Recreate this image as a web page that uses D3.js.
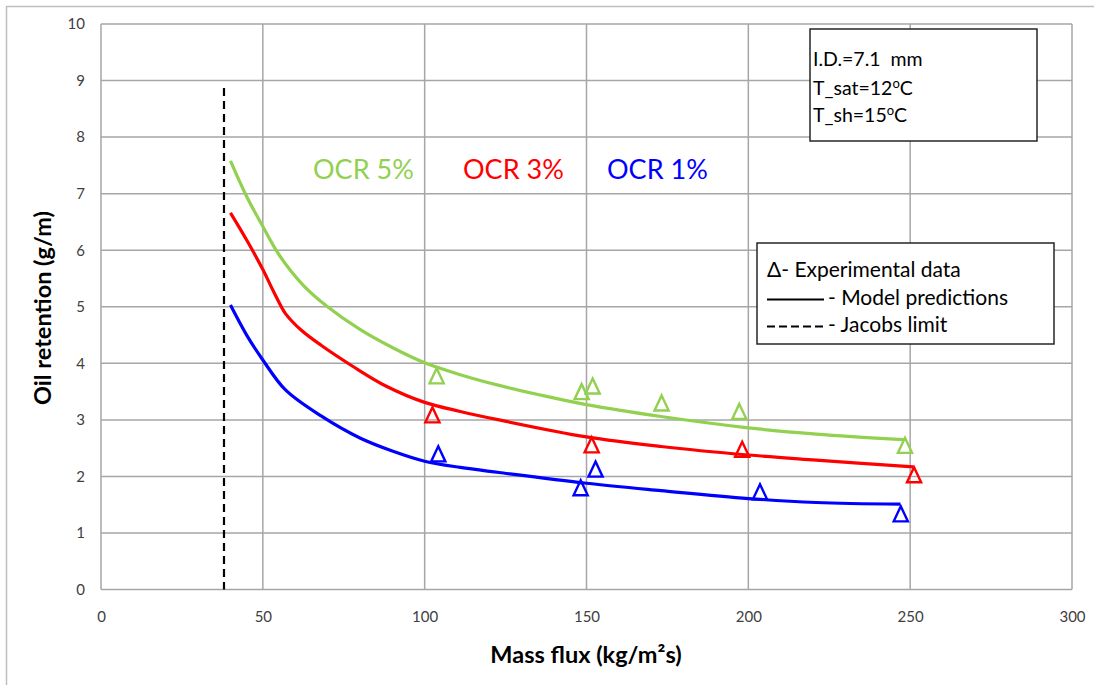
<!DOCTYPE html>
<html>
<head>
<meta charset="utf-8">
<script src="https://cdn.jsdelivr.net/npm/d3@7"></script>
<style>
  html, body { margin: 0; padding: 0; background: #fff; }
  svg { display: block; font-family: Lato, "Open Sans", sans-serif; }
</style>
</head>
<body>
<svg id="chart" width="1094" height="685"></svg>
<script>
// Axis ticks
const xTicks = [0, 50, 100, 150, 200, 250, 300];
const yTicks = [0, 1, 2, 3, 4, 5, 6, 7, 8, 9, 10];

// Model prediction curves (mass flux, oil retention)
const model5X = [40, 45, 50, 55, 62.5, 70, 80, 90, 100, 111, 123, 135, 150, 173, 200, 221, 248];
const model5Y = [7.58, 6.95, 6.42, 5.92, 5.38, 5.0, 4.60, 4.28, 4.01, 3.80, 3.61, 3.45, 3.27, 3.06, 2.86, 2.75, 2.65];
const model3X = [40, 45, 50, 53.5, 57, 62, 68, 78, 88, 100, 111, 123, 150, 173, 200, 221, 251];
const model3Y = [6.66, 6.18, 5.66, 5.25, 4.88, 4.58, 4.32, 3.94, 3.6, 3.31, 3.15, 3.0, 2.70, 2.53, 2.38, 2.29, 2.17];
const model1X = [40, 45, 50, 57, 68, 80, 90, 100, 111, 123, 150, 173, 200, 221, 247];
const model1Y = [5.03, 4.5, 4.06, 3.53, 3.07, 2.68, 2.45, 2.27, 2.16, 2.07, 1.88, 1.75, 1.61, 1.54, 1.51];

// Experimental data
const exp5X = [103.7, 148.5, 151.9, 173.2, 197.2, 248.4];
const exp5Y = [3.78, 3.50, 3.60, 3.30, 3.15, 2.55];
const exp3X = [102.4, 151.6, 198.1, 251.2];
const exp3Y = [3.09, 2.56, 2.48, 2.03];
const exp1X = [104.2, 148.2, 152.8, 203.6, 247.1];
const exp1Y = [2.40, 1.80, 2.13, 1.73, 1.34];

// Jacobs limit
const jacobsX = 38;
const jacobsTop = 8.87;

const seriesNames = ["OCR 5%", "OCR 3%", "OCR 1%"];
const seriesColors = ["#92d050", "#ff0000", "#0000ff"];

const svg = d3.select("#chart");
const plot = { left: 101, right: 1072, top: 24, bottom: 589.6 };

const x = d3.scaleLinear().domain([0, 300]).range([plot.left, plot.right]);
const y = d3.scaleLinear().domain([0, 10]).range([plot.bottom, plot.top]);

// Outer frame
svg.append("rect")
  .attr("x", 6.5).attr("y", 6.5).attr("width", 1200).attr("height", 800)
  .attr("fill", "none").attr("stroke", "#bfbfbf").attr("stroke-width", 1.5);

// Grid
const grid = svg.append("g");
grid.selectAll(".gx").data(xTicks).join("line")
  .attr("x1", d => x(d)).attr("x2", d => x(d))
  .attr("y1", plot.top).attr("y2", plot.bottom)
  .attr("stroke", "#a6a6a6").attr("stroke-width", 1.5);
grid.selectAll(".gy").data(yTicks).join("line")
  .attr("x1", plot.left).attr("x2", plot.right)
  .attr("y1", d => y(d)).attr("y2", d => y(d))
  .attr("stroke", "#a6a6a6").attr("stroke-width", 1.5);

// Axes (labels only)
const xAxis = svg.append("g").attr("transform", `translate(0,${plot.bottom})`)
  .call(d3.axisBottom(x).tickValues(xTicks).tickSize(0).tickPadding(22));
const yAxis = svg.append("g").attr("transform", `translate(${plot.left},0)`)
  .call(d3.axisLeft(y).tickValues(yTicks).tickSize(0).tickPadding(16));
[xAxis, yAxis].forEach(a => {
  a.select(".domain").remove();
  a.selectAll("text").attr("font-family", "Lato, sans-serif").attr("font-size", 15).attr("fill", "#404040");
});

// Jacobs limit line
svg.append("line")
  .attr("x1", x(jacobsX)).attr("x2", x(jacobsX))
  .attr("y1", y(jacobsTop)).attr("y2", y(0))
  .attr("stroke", "#000").attr("stroke-width", 2.2).attr("stroke-dasharray", "8,5");

// Model curves
const line = d3.line().x(d => x(d[0])).y(d => y(d[1])).curve(d3.curveCatmullRom.alpha(0.5));
const models = [[model5X, model5Y], [model3X, model3Y], [model1X, model1Y]];
models.forEach(([xs, ys], i) => {
  svg.append("path")
    .datum(xs.map((v, k) => [v, ys[k]]))
    .attr("d", line)
    .attr("fill", "none")
    .attr("stroke", seriesColors[i])
    .attr("stroke-width", 3.2)
    .attr("stroke-linejoin", "round");
});

// Hollow triangle marker
const triMarker = {
  draw(ctx, size) {
    const w = Math.sqrt(size) * 0.62, h = Math.sqrt(size) * 0.66;
    ctx.moveTo(0, -h);
    ctx.lineTo(w, h);
    ctx.lineTo(-w, h);
    ctx.closePath();
  }
};
const tri = d3.symbol().type(triMarker).size(130);
const exps = [[exp5X, exp5Y], [exp3X, exp3Y], [exp1X, exp1Y]];
exps.forEach(([xs, ys], i) => {
  svg.append("g").selectAll("path")
    .data(xs.map((v, k) => [v, ys[k]]))
    .join("path")
    .attr("transform", d => `translate(${x(d[0])},${y(d[1])})`)
    .attr("d", tri)
    .attr("fill", "none")
    .attr("stroke", seriesColors[i])
    .attr("stroke-width", 2.4);
});

// Series labels
const labelX = [313, 463, 607];
svg.selectAll(".serieslabel").data(seriesNames).join("text")
  .attr("x", (d, i) => labelX[i]).attr("y", 179)
  .attr("font-size", 27)
  .attr("fill", (d, i) => seriesColors[i])
  .text(d => d);

// Conditions box
svg.append("rect")
  .attr("x", 810).attr("y", 29).attr("width", 227).attr("height", 112)
  .attr("fill", "#fff").attr("stroke", "#262626").attr("stroke-width", 1.5);
const cond = svg.append("g").attr("font-size", 19.5).attr("fill", "#000");
cond.append("text").attr("x", 813).attr("y", 66).text("I.D.=7.1  mm").attr("xml:space", "preserve");
const t2 = cond.append("text").attr("x", 813).attr("y", 95);
t2.append("tspan").text("T_sat=12");
t2.append("tspan").attr("font-size", 13).attr("dy", -7).text("o");
t2.append("tspan").attr("dy", 7).text("C");
const t3 = cond.append("text").attr("x", 813).attr("y", 122);
t3.append("tspan").text("T_sh=15");
t3.append("tspan").attr("font-size", 13).attr("dy", -7).text("o");
t3.append("tspan").attr("dy", 7).text("C");

// Legend box
svg.append("rect")
  .attr("x", 757).attr("y", 243).attr("width", 297).attr("height", 101)
  .attr("fill", "#fff").attr("stroke", "#262626").attr("stroke-width", 1.5);
const leg = svg.append("g").attr("font-size", 21).attr("fill", "#000");
leg.append("text").attr("x", 767).attr("y", 277).text("Δ- Experimental data");
leg.append("line").attr("x1", 767).attr("x2", 824).attr("y1", 299.5).attr("y2", 299.5)
  .attr("stroke", "#000").attr("stroke-width", 2);
leg.append("text").attr("x", 828).attr("y", 305).text("- Model predictions");
leg.append("line").attr("x1", 767).attr("x2", 824).attr("y1", 326.5).attr("y2", 326.5)
  .attr("stroke", "#000").attr("stroke-width", 2).attr("stroke-dasharray", "8,4");
leg.append("text").attr("x", 828).attr("y", 332).text("- Jacobs limit");

// Axis titles
svg.append("text")
  .attr("x", 586).attr("y", 663)
  .attr("text-anchor", "middle")
  .attr("font-size", 23.5).attr("font-weight", "bold")
  .text("Mass flux (kg/m²s)");
svg.append("text")
  .attr("transform", "translate(51,308) rotate(-90)")
  .attr("text-anchor", "middle")
  .attr("font-size", 23.5).attr("font-weight", "bold")
  .text("Oil retention (g/m)");
</script>
</body>
</html>
